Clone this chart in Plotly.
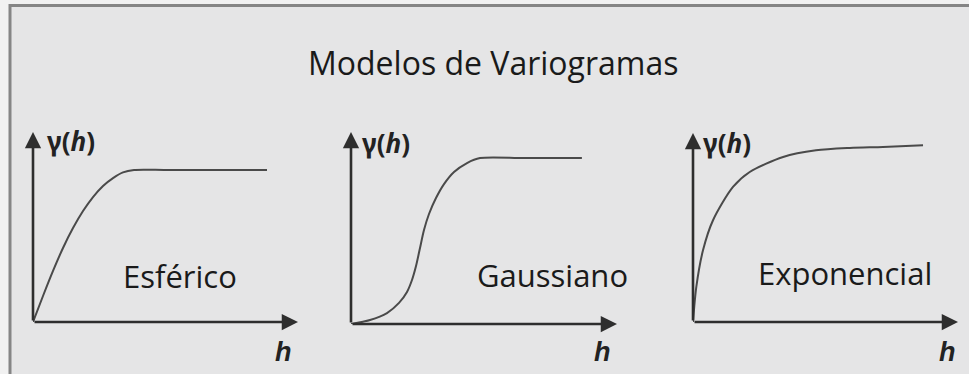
import plotly.graph_objects as go

W, H = 969, 374

# valeurs (h en unités arbitraires, gamma normalisé au palier)
esf_h = [0, 0.377, 0.755, 1.132, 1.509, 1.887, 2.264, 2.642, 3.019, 3.396, 3.811, 5.0, 6.5, 8.83]
esf_g = [0, 0.171, 0.336, 0.487, 0.618, 0.730, 0.822, 0.895, 0.947, 0.984, 1.0, 1.0, 1.0, 1.0]

gau_h = [0, 0.714, 1.353, 1.805, 2.105, 2.293, 2.444, 2.594, 2.744, 2.932, 3.195, 3.496,
         3.872, 4.361, 4.850, 6.5, 8.68]
gau_g = [0, 0.024, 0.066, 0.127, 0.193, 0.265, 0.349, 0.458, 0.566, 0.663, 0.759, 0.843,
         0.916, 0.970, 1.0, 1.0, 1.0]

exp_h = [0, 0.125, 0.377, 0.755, 1.509, 2.14, 3.40, 4.64, 5.92, 7.17, 8.68]
exp_g = [0, 0.204, 0.417, 0.592, 0.786, 0.873, 0.960, 0.999, 1.013, 1.019, 1.029]

noms = ["Esférico", "Gaussiano", "Exponencial"]
titre = "Modelos de Variogramas"

def fx(p):
    return p / W

def fy(p):
    return 1 - p / H

# position des panneaux en pixels : origine, bout des flèches, ymax
panneaux = [
    dict(h=esf_h, g=esf_g, o=(33, 322), tip=(298, 132), ymax=1.25,
         nom=(180, 276), gam=(45, 141), hl=(283, 352)),
    dict(h=gau_h, g=gau_g, o=(351, 324), tip=(617, 132), ymax=1.157,
         nom=(552, 275), gam=(360, 143), hl=(602, 352)),
    dict(h=exp_h, g=exp_g, o=(693, 322), tip=(958, 133), ymax=1.1,
         nom=(845, 273), gam=(701, 143), hl=(947, 352)),
]

fig = go.Figure()
annotations = []
layout = {}
xmax = 10

for i, p in enumerate(panneaux):
    k = "" if i == 0 else str(i + 1)
    xr, yr = "x" + k, "y" + k
    fig.add_trace(go.Scatter(x=p["h"], y=p["g"], mode="lines",
                             line=dict(color="#4a4a4a", width=2, shape="spline", smoothing=0.8),
                             xaxis=xr, yaxis=yr, cliponaxis=False, hoverinfo="skip",
                             showlegend=False))
    layout["xaxis" + k] = dict(domain=[fx(p["o"][0]), fx(p["tip"][0])], range=[0, xmax],
                               visible=False, anchor=yr)
    layout["yaxis" + k] = dict(domain=[fy(p["o"][1]), fy(p["tip"][1])], range=[0, p["ymax"]],
                               visible=False, anchor=xr)
    # flèches des axes
    for (x, y) in [(xmax, 0), (0, p["ymax"])]:
        annotations.append(dict(x=x, y=y, ax=0, ay=0, xref=xr, yref=yr, axref=xr, ayref=yr,
                                text="", showarrow=True, arrowhead=2, arrowsize=1.25,
                                arrowwidth=2.6, arrowcolor="#2e2e2e"))
    annotations.append(dict(x=fx(p["nom"][0]), y=fy(p["nom"][1]), xref="paper", yref="paper",
                            text=noms[i], showarrow=False, xanchor="center", yanchor="middle",
                            font=dict(family="Open Sans", size=31, color="#1a1a1a")))
    annotations.append(dict(x=fx(p["gam"][0]), y=fy(p["gam"][1]), xref="paper", yref="paper",
                            text="<b>γ(<i>h</i>)</b>", showarrow=False, xanchor="left", yanchor="middle",
                            font=dict(family="Noto Sans", size=26, color="#222222")))
    annotations.append(dict(x=fx(p["hl"][0]), y=fy(p["hl"][1]), xref="paper", yref="paper",
                            text="<b><i>h</i></b>", showarrow=False, xanchor="center", yanchor="middle",
                            font=dict(family="Liberation Sans", size=27, color="#222222")))

annotations.append(dict(x=fx(493), y=fy(62), xref="paper", yref="paper", text=titre,
                        showarrow=False, xanchor="center", yanchor="middle",
                        font=dict(family="Open Sans", size=32, color="#1a1a1a")))

fig.update_layout(
    width=W, height=H,
    margin=dict(l=0, r=0, t=0, b=0, pad=0),
    paper_bgcolor="#f1f1f1",
    plot_bgcolor="rgba(0,0,0,0)",
    annotations=annotations,
    shapes=[dict(type="rect", xref="paper", yref="paper", x0=fx(10), x1=1.05,
                 y0=-0.05, y1=fy(5.5), fillcolor="#e5e5e6",
                 line=dict(color="#858585", width=3), layer="below")],
    **layout,
)

# la page met une marge de 8px autour du graphique : on l'enlève
fig.write_html("out.html", config={"displayModeBar": False},
               post_script="document.body.style.margin='0';")
